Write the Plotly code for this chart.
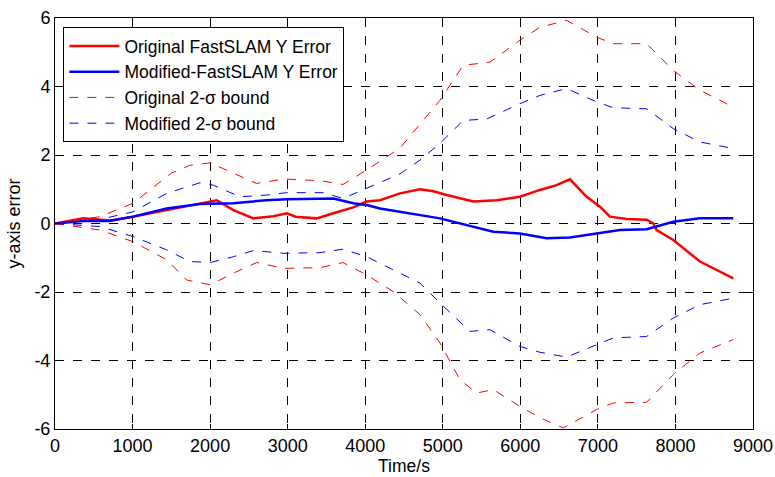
import plotly.graph_objects as go

# Original FastSLAM Y error
orig_x = [0, 365, 709, 1005, 1440, 1870, 2085, 2300, 2558, 2815, 2990, 3100, 3374, 3589, 3847, 4018, 4190, 4448, 4706, 4878, 5050, 5393, 5694, 5995, 6253, 6468, 6640, 6855, 7027, 7156, 7371, 7628, 7714, 7757, 7972, 8316, 8574, 8746]
orig_y = [0, 0.15, 0.09, 0.20, 0.39, 0.57, 0.68, 0.39, 0.15, 0.21, 0.30, 0.20, 0.15, 0.30, 0.47, 0.64, 0.68, 0.88, 1.00, 0.94, 0.83, 0.64, 0.68, 0.78, 0.98, 1.12, 1.29, 0.78, 0.49, 0.20, 0.13, 0.11, 0.0, -0.19, -0.48, -1.11, -1.40, -1.60]

# Modified FastSLAM Y error
mod_x = [0, 365, 709, 1005, 1440, 1870, 2300, 2725, 2990, 3417, 3589, 3847, 4018, 4190, 4448, 4964, 5651, 5995, 6339, 6640, 6984, 7284, 7628, 7972, 8316, 8746]
mod_y = [0, 0.07, 0.07, 0.20, 0.44, 0.57, 0.59, 0.68, 0.71, 0.71, 0.73, 0.59, 0.54, 0.44, 0.34, 0.15, -0.24, -0.29, -0.43, -0.41, -0.29, -0.19, -0.17, 0.05, 0.15, 0.15]

# Original 2-sigma bound (upper / lower)
ob_up_x = [0, 580, 1005, 1500, 1740, 2000, 2600, 2950, 3417, 3714, 4018, 4448, 4964, 5264, 5608, 5995, 6253, 6597, 6984, 7198, 7628, 7972, 8316, 8746]
ob_up_y = [0, 0.20, 0.59, 1.47, 1.70, 1.77, 1.17, 1.30, 1.25, 1.14, 1.56, 2.20, 3.60, 4.62, 4.71, 5.35, 5.73, 5.93, 5.44, 5.25, 5.25, 4.47, 3.89, 3.40]
ob_lo_x = [0, 580, 1005, 1440, 1697, 2000, 2300, 2600, 2950, 3417, 3714, 4018, 4362, 4706, 4964, 5221, 5436, 5651, 5995, 6253, 6554, 6984, 7198, 7628, 7972, 8316, 8746]
ob_lo_y = [0, -0.19, -0.53, -1.06, -1.65, -1.79, -1.45, -1.14, -1.31, -1.29, -1.14, -1.50, -1.99, -2.66, -3.49, -4.56, -4.95, -4.85, -5.34, -5.67, -5.97, -5.43, -5.24, -5.22, -4.41, -3.78, -3.39]

# Modified 2-sigma bound (upper / lower)
mb_up_x = [0, 580, 1005, 1440, 1870, 2040, 2385, 2725, 2990, 3460, 3714, 4018, 4448, 4706, 4964, 5264, 5565, 5995, 6253, 6597, 6984, 7198, 7628, 7972, 8316, 8746]
mb_up_y = [0, 0.12, 0.34, 0.88, 1.19, 1.12, 0.78, 0.83, 0.90, 0.90, 0.73, 1.03, 1.45, 1.85, 2.34, 3.01, 3.05, 3.50, 3.74, 3.94, 3.55, 3.38, 3.35, 2.77, 2.38, 2.19]
mb_lo_x = [0, 580, 1005, 1440, 1740, 2000, 2300, 2558, 2950, 3417, 3714, 4018, 4448, 4706, 4964, 5350, 5608, 5995, 6253, 6597, 6984, 7198, 7628, 7972, 8316, 8746]
mb_lo_y = [0, -0.09, -0.38, -0.77, -1.11, -1.14, -0.97, -0.79, -0.87, -0.85, -0.75, -0.97, -1.45, -1.74, -2.32, -3.15, -3.10, -3.59, -3.76, -3.90, -3.54, -3.34, -3.30, -2.76, -2.37, -2.18]

x_ticks = [0, 1000, 2000, 3000, 4000, 5000, 6000, 7000, 8000, 9000]
y_ticks = [-6, -4, -2, 0, 2, 4, 6]

RED = "#ff0000"
BLUE = "#0000ff"

fig = go.Figure()
fig.add_trace(go.Scatter(x=orig_x, y=orig_y, mode="lines", name="Original FastSLAM Y Error",
                         line=dict(color=RED, width=2.5)))
fig.add_trace(go.Scatter(x=mod_x, y=mod_y, mode="lines", name="Modified-FastSLAM Y Error",
                         line=dict(color=BLUE, width=2.5)))
fig.add_trace(go.Scatter(x=ob_up_x, y=ob_up_y, mode="lines", name="Original 2-σ bound",
                         legendgroup="ob", line=dict(color=RED, width=1, dash="dash")))
fig.add_trace(go.Scatter(x=mb_up_x, y=mb_up_y, mode="lines", name="Modified 2-σ bound",
                         legendgroup="mb", line=dict(color=BLUE, width=1, dash="dash")))
fig.add_trace(go.Scatter(x=ob_lo_x, y=ob_lo_y, mode="lines", name="Original 2-σ bound",
                         legendgroup="ob", showlegend=False, line=dict(color=RED, width=1, dash="dash")))
fig.add_trace(go.Scatter(x=mb_lo_x, y=mb_lo_y, mode="lines", name="Modified 2-σ bound",
                         legendgroup="mb", showlegend=False, line=dict(color=BLUE, width=1, dash="dash")))

axis_common = dict(
    showline=True, linecolor="black", linewidth=1, mirror="ticks",
    ticks="inside", ticklen=5, tickcolor="black", automargin=False,
    showgrid=True, gridcolor="black", gridwidth=1, griddash="dash",
    zeroline=False, tickfont=dict(family="Arial, Liberation Sans", size=18, color="black"),
)

fig.update_layout(
    width=775, height=477,
    margin=dict(l=55, r=22, t=18, b=48, autoexpand=False),
    paper_bgcolor="white", plot_bgcolor="white",
    font=dict(family="Arial, Liberation Sans", size=17, color="black"),
    showlegend=True,
    legend=dict(x=0.012, y=0.978, xanchor="left", yanchor="top",
                bgcolor="white", bordercolor="black", borderwidth=1,
                font=dict(size=17.5), tracegroupgap=0, itemwidth=50),
    xaxis=dict(range=[0, 9000], tickvals=x_ticks, ticktext=[str(v) for v in x_ticks],
               title=dict(text="Time/s", standoff=4, font=dict(size=17.5)), **axis_common),
    yaxis=dict(range=[-6, 6], tickvals=y_ticks, ticktext=[str(v) for v in y_ticks],
               title=dict(text="y-axis error", standoff=9, font=dict(size=18)), **axis_common),
)

fig.write_html("out.html")
